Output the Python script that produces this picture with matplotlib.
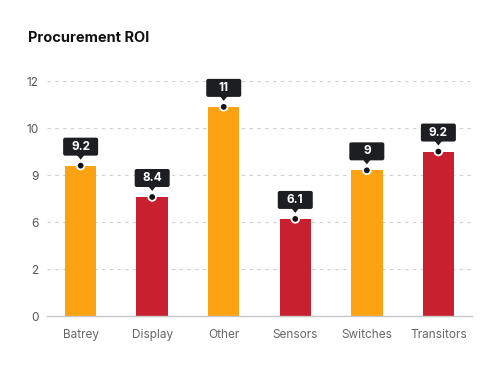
"""Procurement ROI bar chart."""
import numpy as np
import matplotlib
matplotlib.use("Agg")
import matplotlib.pyplot as plt
import matplotlib.transforms as mtransforms
from matplotlib.patches import FancyBboxPatch, Polygon, Circle

categories = ["Batrey", "Display", "Other", "Sensors", "Switches", "Transitors"]
values = [9.2, 7.6, 10.9, 6.2, 9.1, 9.5]
value_labels = ["9.2", "8.4", "11", "6.1", "9", "9.2"]
bar_colors = ["#FBA313", "#C8202F", "#FBA313", "#C8202F", "#FBA313", "#C8202F"]
y_ticks = [0, 2, 6, 9, 10, 12]

plt.rcParams["font.family"] = ["Inter", "DejaVu Sans"]

fig = plt.figure(figsize=(5, 3.65), dpi=100)
ax = fig.add_axes([0.094, 0.134, 0.85, 0.644])

# the axis ticks are evenly spaced but not evenly valued
tick_idx = np.arange(len(y_ticks))
ax.set_yscale("function", functions=(
    lambda v: np.interp(v, y_ticks, tick_idx),
    lambda p: np.interp(p, tick_idx, y_ticks),
))

x = np.arange(len(categories))
ax.bar(x, values, width=0.44, color=bar_colors, zorder=2)

ax.set_xlim(-0.47, 5.47)
ax.set_ylim(0, 12)
ax.set_yticks(y_ticks)
ax.set_yticklabels([str(t) for t in y_ticks])
ax.set_xticks(x)
ax.set_xticklabels(categories)
ax.tick_params(axis="y", length=0, pad=6, labelsize=8.5, labelcolor="#555555")
ax.tick_params(axis="x", length=0, pad=9, labelsize=8.5, labelcolor="#666666")
for lbl in ax.get_xticklabels():
    lbl.set_fontstretch("expanded")

for s in ["top", "right", "left"]:
    ax.spines[s].set_visible(False)
ax.spines["bottom"].set_color("#c8c8c8")
ax.spines["bottom"].set_linewidth(1.0)
for t in y_ticks[1:]:
    ax.axhline(t, color="#d0d0d0", lw=0.8, ls=(0, (3, 4)), zorder=0)

fig.text(0.056, 0.895, "Procurement ROI", fontsize=10.5, fontweight="bold",
         color="#111111", va="center")

# value tags: dark box with pointer and dot at bar top
box_w, box_h, gap = 35, 18, 10
for i, (v, lab) in enumerate(zip(values, value_labels)):
    px, py = ax.transData.transform((i, v))
    tr = mtransforms.Affine2D().translate(px, py)
    box = FancyBboxPatch((-box_w / 2 + 2, gap + 2), box_w - 4, box_h - 4,
                         boxstyle="round,pad=2", fc="#1c1e21", ec="none",
                         transform=tr, zorder=5, clip_on=False)
    fig.add_artist(box)
    tri = Polygon([(-4, gap + 1), (4, gap + 1), (0, gap - 4)], closed=True,
                  fc="#1c1e21", ec="none", transform=tr, zorder=5, clip_on=False)
    fig.add_artist(tri)
    dot = Circle((0, 0), 3.8, fc="#111111", ec="white", lw=1.3,
                 transform=tr, zorder=6, clip_on=False)
    fig.add_artist(dot)
    fig.text(px, py + gap + box_h / 2, lab, transform=None, ha="center",
             va="center", color="white", fontsize=8.5, fontweight="bold", zorder=7)

fig.savefig("out.png", dpi=100)
